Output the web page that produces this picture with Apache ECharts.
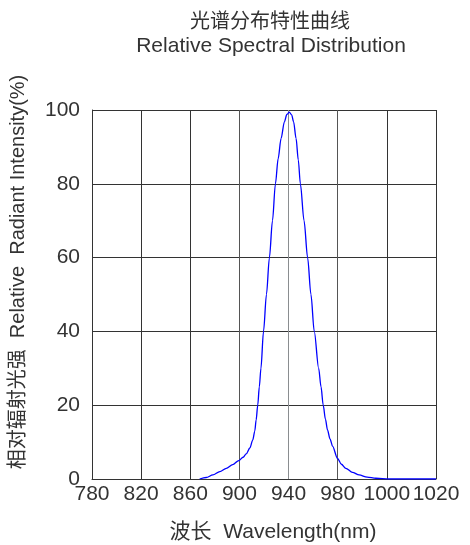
<!DOCTYPE html>
<html>
<head>
<meta charset="utf-8">
<script src="https://cdn.jsdelivr.net/npm/echarts@6/dist/echarts.min.js"></script>
<style>html,body{margin:0;padding:0;background:#fff;}#c{width:470px;height:545px;}</style>
</head>
<body>
<div id="c"></div>
<script>
// Tick labels as printed on the reference (evenly spaced positions)
const xTickLabels = ['780','820','860','900','940','980','1000','1020'];
const yTickLabels = ['0','20','40','60','80','100'];
// Curve samples: position on the evenly spaced wavelength axis, relative intensity (%)
const wavelength = [867.6,873,878.4,884,889.3,894.5,899.5,903,905.5,908.5,910.9,912.5,913.6,914.9,916.2,917.5,919.6,922,924.4,926.9,929.3,931.5,933.9,936.6,938.6,940.6,942.5,944.1,946.1,947.9,949.6,952.6,955.5,958.2,960.9,964.5,966.4,968.2,970,971.7,973.7,975.8,979.8,983,986.6,992,997.4,1004,1011,1021.8,1060];
const intensity  = [0,0.4,1.1,2.0,2.9,3.9,5.0,5.9,6.8,8.4,10.6,13.0,16.0,20,25,30,40,50,60,70,80,86.8,92.3,96.8,98.8,99.4,98.7,96.8,92.3,86.5,80,70,60,50,40,30,25,20,16.2,13.3,10.9,8.9,5.6,4.0,2.9,1.8,1.1,0.5,0.2,0,0];
const titleCN = '光谱分布特性曲线';
const titleEN = 'Relative Spectral Distribution';
const xName = '波长  Wavelength(nm)';
const yName = '相对辐射光强  Relative  Radiant Intensity(%)';

const FONT = '"Liberation Sans", Arial, "Noto Sans CJK SC", sans-serif';
const TXT = '#333333';
const chart = echarts.init(document.getElementById('c'), null, {renderer: 'canvas'});
chart.setOption({
  animation: false,
  backgroundColor: '#ffffff',
  grid: {left: 92, right: 34, top: 110, bottom: 66, containLabel: false},
  xAxis: {
    type: 'value', min: 780, max: 1060, interval: 40,
    axisLine: {show: true, lineStyle: {color: '#333', width: 1}},
    axisTick: {show: false},
    splitLine: {show: true, lineStyle: {color: ['#333', '#333', '#333', '#555', '#8a8d90', '#555', '#333', '#333'], width: 1}},
    axisLabel: {
      color: TXT, fontSize: 21, fontFamily: FONT, margin: 5,
      formatter: function (v) { return xTickLabels[Math.round((v - 780) / 40)] || ''; }
    }
  },
  yAxis: {
    type: 'value', min: 0, max: 100, interval: 20,
    axisLine: {show: true, lineStyle: {color: '#333', width: 1}},
    axisTick: {show: false},
    splitLine: {show: true, lineStyle: {color: '#333', width: 1}},
    axisLabel: {
      color: TXT, fontSize: 21, fontFamily: FONT, margin: 12,
      formatter: function (v) { return yTickLabels[Math.round(v / 20)]; }
    }
  },
  series: [{
    type: 'line', smooth: 0.3, smoothMonotone: 'x', showSymbol: false, symbol: 'none',
    lineStyle: {color: '#0000ff', width: 1.3},
    data: wavelength.map((w, i) => [w, intensity[i]]),
    z: 5
  }],
  graphic: [
    {type: 'text', x: 270, y: 22, style: {text: titleCN, fill: TXT, font: '20px ' + FONT, textAlign: 'center', textVerticalAlign: 'middle'}},
    {type: 'text', x: 271, y: 46, style: {text: titleEN, fill: TXT, font: '21px ' + FONT, textAlign: 'center', textVerticalAlign: 'middle'}},
    {type: 'text', x: 273, y: 532, style: {text: xName, fill: TXT, font: '21px ' + FONT, textAlign: 'center', textVerticalAlign: 'middle'}},
    {type: 'text', x: 18, y: 272, rotation: Math.PI / 2, style: {text: yName, fill: TXT, font: '20px ' + FONT, textAlign: 'center', textVerticalAlign: 'middle'}}
  ]
});
</script>
</body>
</html>
